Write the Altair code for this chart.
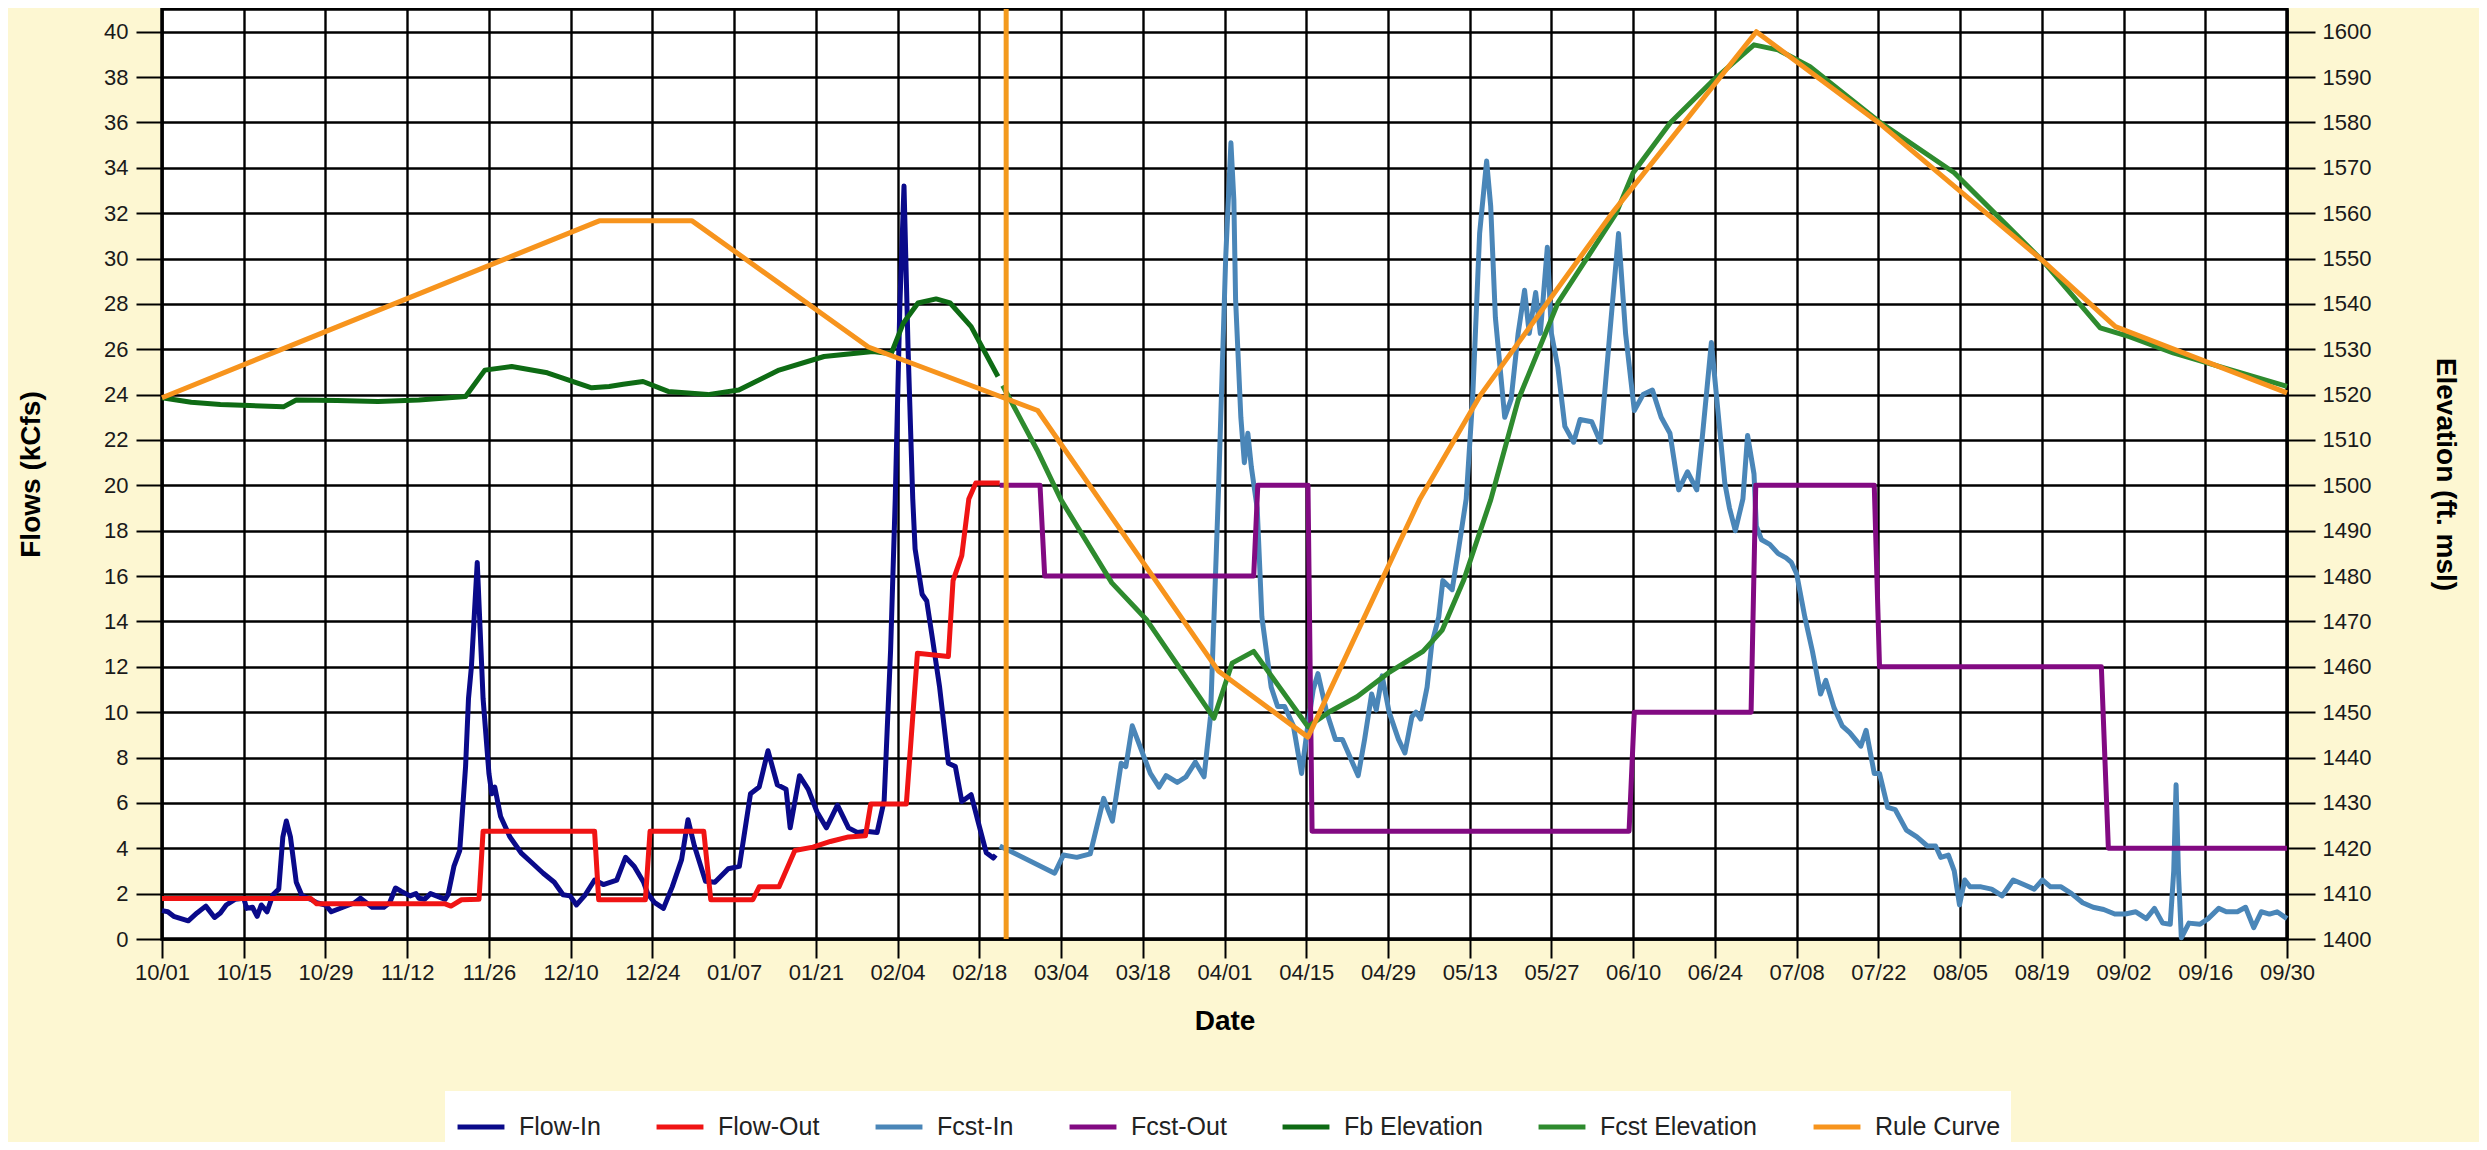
import altair as alt
import pandas as pd

FONT = "Liberation Sans"
START = pd.Timestamp("2022-10-01")

series_names = ["Flow-In", "Flow-Out", "Fcst-In", "Fcst-Out", "Fb Elevation", "Fcst Elevation", "Rule Curve"]
series_colors = ["#0A0A8A", "#F01414", "#4A86B8", "#820A82", "#0E6B14", "#2E8B2E", "#F7941D"]
series_widths = [5, 5, 5, 4.5, 5.5, 4.5, 8]

tick_labels = ["10/01", "10/15", "10/29", "11/12", "11/26", "12/10", "12/24", "01/07", "01/21",
               "02/04", "02/18", "03/04", "03/18", "04/01", "04/15", "04/29", "05/13", "05/27",
               "06/10", "06/24", "07/08", "07/22", "08/05", "08/19", "09/02", "09/16", "09/30"]
flow_ticks = list(range(0, 41, 2))
elev_ticks = list(range(1400, 1601, 10))

# day offsets from 10/01
flow_in_day = [0, 1, 2, 4.5, 6, 7.5, 9, 10, 11, 12.5, 14, 14.5, 15.5, 16.3, 17, 18, 19, 20, 20.7, 21.3, 22, 23,
               24, 25.5, 26.5, 28, 29, 31, 33, 34, 36, 38, 39, 40, 41, 42.5, 43.5, 44, 45, 46, 47, 48.5, 49,
               50, 51, 52, 52.5, 53, 54, 55, 56, 56.5, 57, 58, 59.6, 61.5, 63.4, 65.3, 67.2, 68.7, 69.9, 71,
               72.5, 74.1, 75.6, 77.9, 79.4, 80.9, 82.5, 83.2, 84.4, 85.9, 87.4, 89, 90.1, 91.2, 93.1, 94.7,
               97, 98.9, 100.8, 102.3, 103.8, 105.4, 106.9, 107.6, 109.2, 110.7, 112.2, 113.8, 115.7, 117.6,
               119.1, 120.6, 122.5, 123.7, 124.8, 125.6, 126.4, 127.1, 127.8, 128.6, 129, 130.2, 131, 132,
               133.2, 134.7, 135.9, 137, 138.6, 139.7, 141.2, 142.4, 142.8]
flow_in_val = [1.25, 1.2, 1.0, 0.8, 1.15, 1.45, 0.95, 1.15, 1.5, 1.75, 1.8, 1.35, 1.4, 1.0, 1.5, 1.2, 1.95, 2.2,
               4.5, 5.2, 4.5, 2.5, 1.9, 1.75, 1.6, 1.5, 1.2, 1.4, 1.6, 1.8, 1.4, 1.4, 1.6, 2.25, 2.1, 1.9, 2.0,
               1.8, 1.75, 2.0, 1.9, 1.75, 1.95, 3.2, 3.9, 7.6, 10.6, 12.0, 16.6, 10.6, 7.3, 6.4, 6.7, 5.4, 4.5,
               3.8, 3.35, 2.9, 2.5, 1.95, 1.9, 1.5, 1.95, 2.6, 2.4, 2.6, 3.6, 3.2, 2.5, 2.0, 1.6, 1.35, 2.3,
               3.5, 5.26, 4.1, 2.55, 2.5, 3.1, 3.2, 6.4, 6.7, 8.3, 6.8, 6.6, 4.9, 7.2, 6.6, 5.6, 4.9, 5.9,
               4.9, 4.7, 4.75, 4.7, 6.1, 12.7, 19.4, 28.0, 33.2, 26.0, 19.4, 17.2, 15.2, 14.9, 13.2, 11.1,
               7.75, 7.6, 6.06, 6.36, 5.26, 3.8, 3.57, 3.7]

flow_out_day = [0, 25.5, 26.5, 48.5, 49.5, 51.3, 54.3, 55, 74.1, 74.8, 82.8, 83.6, 92.8, 94, 101.2, 102.3,
                105.7, 108.4, 111.5, 114.5, 117.6, 120.5, 121.4, 127.5, 129.4, 134.7, 135.5, 137, 138.2,
                139.4, 143.5]
flow_out_val = [1.78, 1.78, 1.55, 1.55, 1.45, 1.73, 1.75, 4.75, 4.75, 1.73, 1.73, 4.75, 4.75, 1.73, 1.73, 2.3,
                2.3, 3.9, 4.05, 4.3, 4.5, 4.55, 5.95, 5.95, 12.6, 12.45, 15.8, 16.9, 19.4, 20.1, 20.1]

fcst_in_day = [143.5, 152.9, 154.4, 156.7, 159, 161.3, 162.8, 164.3, 165.1, 166.2, 167.8, 169.3, 170.8, 172,
               173.9, 175.4, 177, 178.5, 179.6, 181, 182.2, 183.1, 183.6, 183.9, 184.8, 185.4, 186, 186.6,
               187.6, 188.4, 190, 191.1, 192.3, 193.8, 195.2, 196.1, 197.2, 198, 199.5, 201, 202.2, 203.7,
               204.9, 206, 207.2, 208, 209, 210.2, 211.8, 212.9, 214.1, 214.8, 215.6, 216.7, 217.5, 218.7,
               219.4, 221, 222.1, 223.4, 224.5, 225.7, 226.9, 227.6, 228.4, 230, 231.1, 232.3, 233.4, 234.2,
               235.3, 236.1, 237.3, 238, 239.1, 240.3, 241.8, 242.9, 244.9, 246.4, 248, 249.5, 250.7, 252.2,
               253.7, 255.3, 256.8, 258.3, 259.8, 261.3, 262.9, 263.8, 265.4, 267.7, 268.5, 269.5, 270.8,
               271.6, 272.7, 273.1, 274, 275.4, 276.8, 278.2, 279.1, 280, 281.4, 282.7, 284.1, 285, 286.4,
               287.8, 289.1, 291, 291.9, 293.3, 294.2, 295.6, 296.9, 298.8, 300.6, 302.4, 303.8, 304.7, 306,
               307, 307.9, 308.8, 309.7, 311.6, 313.4, 315.2, 317.1, 318.9, 320.7, 322.1, 323.5, 325.3, 327.1,
               329, 330.8, 332.6, 334.5, 336.3, 338.1, 339.9, 341.3, 342.7, 344, 344.6, 345, 345.4, 345.9,
               347.2, 349.1, 350.5, 352.3, 353.6, 355.5, 356.9, 358.3, 359.6, 361, 362.3, 364]
fcst_in_val = [4.1, 2.9, 3.7, 3.6, 3.75, 6.2, 5.2, 7.75, 7.6, 9.4, 8.3, 7.3, 6.7, 7.2, 6.9, 7.15, 7.8, 7.15, 9.8,
               20.0, 30.0, 35.1, 32.6, 28.2, 23.0, 21.0, 22.3, 20.8, 19.0, 14.2, 11.1, 10.25, 10.25, 9.4, 7.3,
               9.1, 11.0, 11.7, 10.0, 8.8, 8.8, 7.9, 7.2, 8.8, 10.8, 10.1, 11.6, 10.0, 8.8, 8.2, 9.8, 10.0, 9.7,
               11.1, 13.0, 14.2, 15.8, 15.4, 17.2, 19.4, 23.8, 31.1, 34.3, 32.3, 27.4, 23.0, 23.8, 26.7, 28.6,
               26.7, 28.5, 26.7, 30.5, 26.7, 25.2, 22.6, 21.9, 22.9, 22.8, 21.9, 26.7, 31.1, 26.7, 23.3, 24.0,
               24.2, 23.0, 22.3, 19.8, 20.6, 19.8, 22.0, 26.3, 20.1, 19.0, 18.0, 19.4, 22.2, 20.5, 18.2, 17.6,
               17.4, 17.0, 16.8, 16.6, 16.1, 14.2, 12.7, 10.8, 11.4, 10.2, 9.4, 9.1, 8.5, 9.2, 7.3, 7.3, 5.8,
               5.7, 4.8, 4.5, 4.1, 4.1, 3.6, 3.7, 3.0, 1.5, 2.6, 2.3, 2.3, 2.2, 1.9, 2.6, 2.4, 2.2, 2.6, 2.3,
               2.3, 2.0, 1.6, 1.4, 1.3, 1.1, 1.1, 1.2, 0.9, 1.35, 0.7, 0.65, 3.0, 6.8, 3.0, 0.05, 0.7, 0.65,
               0.9, 1.35, 1.2, 1.2, 1.4, 0.5, 1.2, 1.1, 1.2, 0.9]

fcst_out_day = [143.5, 150.4, 151.2, 187, 187.7, 196.3, 197, 251.3, 252.2, 272.2, 273, 293.3, 294.2, 332.2,
                333.4, 364]
fcst_out_val = [20, 20, 16, 16, 20, 20, 4.75, 4.75, 10, 10, 20, 20, 12, 12, 4, 4]

fb_elev_day = [0, 5, 10, 15, 20.8, 23, 30, 37, 44, 52, 55.3, 59.9, 66, 73.6, 76.6, 79, 82.4, 86.7, 93.5,
               98.8, 105.7, 113.4, 121.8, 124.9, 127, 129.5, 132.6, 135, 138.6, 143.2]
fb_elev_val = [1519.3, 1518.3, 1517.8, 1517.6, 1517.3, 1518.8, 1518.7, 1518.5, 1518.8, 1519.6, 1525.4,
               1526.2, 1524.8, 1521.5, 1521.8, 1522.3, 1522.9, 1520.7, 1520.0, 1521.0, 1525.4, 1528.4,
               1529.5, 1529.0, 1535.8, 1540.2, 1541.1, 1540.2, 1535.0, 1524.0]

fcst_elev_day = [144, 149.9, 154, 162.7, 168.7, 180.2, 183.3, 187, 196.3, 200, 204.7, 210, 216, 219.3, 223,
                 227.6, 232.3, 239.1, 249.1, 252, 258.4, 265.8, 272.7, 276.8, 282.3, 294.3, 307, 322.5, 332,
                 337, 344.5, 364]
fcst_elev_val = [1522.0, 1507.8, 1496.8, 1478.5, 1470.3, 1448.7, 1460.8, 1463.4, 1446.8, 1450.1, 1453.4,
                 1458.6, 1463.4, 1468.1, 1479.2, 1496.8, 1518.8, 1540.2, 1560.0, 1568.9, 1580.0, 1589.4,
                 1597.1, 1596.0, 1592.3, 1580.0, 1568.9, 1549.0, 1534.7, 1532.8, 1529.2, 1521.8]

rule_day = [0, 74.9, 90.8, 121, 150, 181, 196.3, 215.4, 225.9, 248.4, 273.1, 294, 322, 334.6, 364]
rule_val = [1519.3, 1558.3, 1558.3, 1530.5, 1516.5, 1459.0, 1444.5, 1496.8, 1520.0, 1560.0, 1600.0,
            1580.0, 1549.7, 1535.0, 1520.4]

today_day = [144.6]


def to_dates(days):
    return START + pd.to_timedelta(days, unit="D")


def frame(days, vals, name):
    return pd.DataFrame({"date": to_dates(days), "value": vals, "series": name})


flows_df = pd.concat([
    frame(flow_in_day, flow_in_val, "Flow-In"),
    frame(flow_out_day, flow_out_val, "Flow-Out"),
    frame(fcst_in_day, fcst_in_val, "Fcst-In"),
    frame(fcst_out_day, fcst_out_val, "Fcst-Out"),
], ignore_index=True)

elev_df = pd.concat([
    frame(fb_elev_day, fb_elev_val, "Fb Elevation"),
    frame(fcst_elev_day, fcst_elev_val, "Fcst Elevation"),
    frame(rule_day, rule_val, "Rule Curve"),
], ignore_index=True)

today_df = pd.DataFrame({"date": to_dates(today_day)})


def label_to_dt(lbl):
    m, d = int(lbl[:2]), int(lbl[3:])
    return alt.DateTime(year=2022 if m >= 10 else 2023, month=m, date=d)


x_ticks = [label_to_dt(t) for t in tick_labels]

x_enc = alt.X(
    "date:T",
    scale=alt.Scale(domain=[label_to_dt(tick_labels[0]), label_to_dt(tick_labels[-1])], nice=False),
    axis=alt.Axis(
        values=x_ticks, format="%m/%d", title="Date",
        labelFont=FONT, labelFontSize=22, labelColor="#1a1a1a", labelPadding=4,
        labelFlush=False, labelOverlap=False,
        tickSize=19, tickWidth=2, tickColor="black",
        grid=True, gridColor="black", gridWidth=2.4, gridOpacity=1,
        domain=False,
        titleFont=FONT, titleFontSize=28, titleFontWeight="bold", titleColor="black", titlePadding=24,
    ),
)

color_enc = alt.Color(
    "series:N",
    scale=alt.Scale(domain=series_names, range=series_colors),
    legend=alt.Legend(
        orient="none", legendX=283, legendY=1082, direction="horizontal", columns=7,
        title=None, symbolType="stroke", symbolSize=2200, symbolStrokeWidth=5,
        labelFont=FONT, labelFontSize=25, labelColor="#222222", labelOffset=12, labelLimit=0,
        columnPadding=45, padding=10, fillColor="#FFFFFF",
    ),
)
width_enc = alt.StrokeWidth(
    "series:N", scale=alt.Scale(domain=series_names, range=series_widths), legend=None
)

flows = alt.Chart(flows_df).mark_line(strokeJoin="round").encode(
    x=x_enc,
    y=alt.Y(
        "value:Q",
        scale=alt.Scale(domain=[0, 41], nice=False, zero=False),
        axis=alt.Axis(
            orient="left", values=flow_ticks, title="Flows (kCfs)",
            labelFont=FONT, labelFontSize=22, labelColor="#1a1a1a", labelPadding=8,
            tickSize=26, tickWidth=2, tickColor="black",
            grid=True, gridColor="black", gridWidth=2.4, gridOpacity=1,
            domain=False,
            titleFont=FONT, titleFontSize=28, titleFontWeight="bold", titleColor="black",
            titlePadding=58,
        ),
    ),
    color=color_enc,
    strokeWidth=width_enc,
)

elev = alt.Chart(elev_df).mark_line(strokeJoin="round").encode(
    x=x_enc,
    y=alt.Y(
        "value:Q",
        scale=alt.Scale(domain=[1400, 1605], nice=False, zero=False),
        axis=alt.Axis(
            orient="right", values=elev_ticks, title="Elevation (ft. msl)", format="d",
            labelFont=FONT, labelFontSize=22, labelColor="#1a1a1a", labelPadding=7,
            tickSize=28, tickWidth=2, tickColor="black",
            grid=False, domain=False,
            titleFont=FONT, titleFontSize=28, titleFontWeight="bold", titleColor="black",
            titlePadding=60,
        ),
    ),
    color=color_enc,
    strokeWidth=width_enc,
)

today = alt.Chart(today_df).mark_rule(color="#F39A1E", strokeWidth=5).encode(x=x_enc)

chart = (
    alt.layer(flows, elev, today)
    .resolve_scale(y="independent")
    .properties(
        width=2125, height=930,
        autosize=alt.AutoSizeParams(type="none"),
        padding={"left": 154, "top": 1, "right": 192, "bottom": 203},
        background="#FDF7D2",
    )
    .configure_view(fill="white", stroke="black", strokeWidth=3.5)
)

chart.save("out.html", embed_options={"renderer": "svg", "actions": False})
